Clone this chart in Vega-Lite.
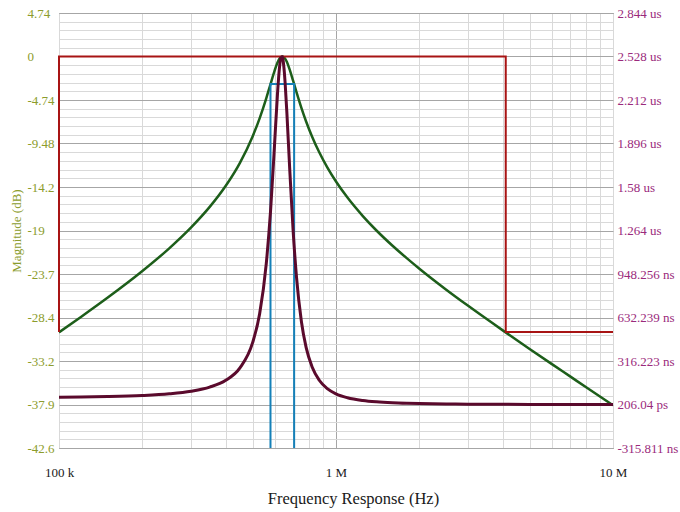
{
  "$schema": "https://vega.github.io/schema/vega-lite/v6.json",
  "width": 554,
  "height": 435,
  "autosize": "none",
  "padding": {"left": 59, "top": 13, "right": 67, "bottom": 64},
  "background": "#ffffff",
  "config": {
    "view": {"stroke": "#6e6e6e", "strokeWidth": 1},
    "font": "Liberation Serif",
    "axis": {"labelFont": "Liberation Serif", "titleFont": "Liberation Serif"}
  },
  "datasets": {
    "resp": [
      {"f": 100000, "db": -30.03, "gd": 0.05263},
      {"f": 120000, "db": -28.35, "gd": 0.05435},
      {"f": 150000, "db": -26.24, "gd": 0.05768},
      {"f": 200000, "db": -23.35, "gd": 0.06568},
      {"f": 250000, "db": -20.88, "gd": 0.07793},
      {"f": 300000, "db": -18.6, "gd": 0.09671},
      {"f": 350000, "db": -16.37, "gd": 0.12645},
      {"f": 400000, "db": -14.07, "gd": 0.17613},
      {"f": 450000, "db": -11.57, "gd": 0.26619},
      {"f": 500000, "db": -8.7, "gd": 0.44921},
      {"f": 530000, "db": -6.73, "gd": 0.65857},
      {"f": 560000, "db": -4.55, "gd": 1.0216},
      {"f": 580000, "db": -3.02, "gd": 1.39818},
      {"f": 600000, "db": -1.56, "gd": 1.8877},
      {"f": 615000, "db": -0.66, "gd": 2.26057},
      {"f": 625000, "db": -0.25, "gd": 2.44578},
      {"f": 632000, "db": -0.07, "gd": 2.51755},
      {"f": 640000, "db": 0, "gd": 2.52645},
      {"f": 648000, "db": -0.07, "gd": 2.4563},
      {"f": 655000, "db": -0.23, "gd": 2.3396},
      {"f": 665000, "db": -0.61, "gd": 2.11289},
      {"f": 680000, "db": -1.4, "gd": 1.72642},
      {"f": 700000, "db": -2.63, "gd": 1.26652},
      {"f": 720000, "db": -3.87, "gd": 0.92728},
      {"f": 750000, "db": -5.59, "gd": 0.6033},
      {"f": 780000, "db": -7.07, "gd": 0.41503},
      {"f": 820000, "db": -8.73, "gd": 0.27207},
      {"f": 870000, "db": -10.43, "gd": 0.17634},
      {"f": 930000, "db": -12.07, "gd": 0.11561},
      {"f": 1000000, "db": -13.61, "gd": 0.07755},
      {"f": 1100000, "db": -15.36, "gd": 0.04921},
      {"f": 1250000, "db": -17.37, "gd": 0.0292},
      {"f": 1400000, "db": -18.94, "gd": 0.01951},
      {"f": 1600000, "db": -20.6, "gd": 0.01276},
      {"f": 1800000, "db": -21.95, "gd": 0.009076},
      {"f": 2000000, "db": -23.1, "gd": 0.006825},
      {"f": 2500000, "db": -25.38, "gd": 0.003903},
      {"f": 3000000, "db": -27.14, "gd": 0.002552},
      {"f": 4000000, "db": -29.81, "gd": 0.001352},
      {"f": 5000000, "db": -31.83, "gd": 0.000842},
      {"f": 6000000, "db": -33.46, "gd": 0.000576},
      {"f": 7000000, "db": -34.82, "gd": 0.000419},
      {"f": 8000000, "db": -36.0, "gd": 0.000319},
      {"f": 10000000, "db": -37.96, "gd": 0.000203}
    ],
    "mask": [
      {"f": 100000, "db": -30, "o": 0},
      {"f": 100000, "db": 0, "o": 1},
      {"f": 4100000, "db": 0, "o": 2},
      {"f": 4100000, "db": -30, "o": 3},
      {"f": 10000000, "db": -30, "o": 4}
    ],
    "bw": [
      {"f": 580100, "db": -42.615, "o": 0},
      {"f": 580100, "db": -3, "o": 1},
      {"f": 706100, "db": -3, "o": 2},
      {"f": 706100, "db": -42.615, "o": 3}
    ]
  },
  "encoding": {
    "x": {
      "field": "f",
      "type": "quantitative",
      "scale": {"type": "log", "domain": [100000, 10000000], "nice": false},
      "axis": {
        "values": [100000, 200000, 300000, 400000, 500000, 600000, 700000, 800000, 900000, 1000000, 2000000, 3000000, 4000000, 5000000, 6000000, 7000000, 8000000, 9000000, 10000000],
        "labelExpr": "datum.value == 100000 ? '100 k' : datum.value == 1000000 ? '1 M' : datum.value == 10000000 ? '10 M' : ''",
        "title": "Frequency Response (Hz)",
        "titleFontSize": 16.5,
        "titleFontWeight": "normal",
        "titleColor": "#1a1a1a",
        "titlePadding": 11,
        "titleX": 294,
        "labelColor": "#1a1a1a",
        "labelFontSize": 13,
        "labelPadding": 18,
        "labelFlush": false,
        "labelOverlap": false,
        "ticks": false,
        "tickSize": 0,
        "domain": false,
        "grid": true,
        "gridWidth": 1,
        "gridColor": {"condition": {"test": "datum.value == 1000000", "value": "#a6a6a6"}, "value": "#d9d9d9"}
      }
    }
  },
  "layer": [
    {
      "encoding": {
        "y": {
          "field": "db",
          "type": "quantitative",
          "scale": {"domain": [-42.615, 4.735], "nice": false, "zero": false},
          "axis": {
            "orient": "left",
            "values": [4.735, 3.788, 2.841, 1.894, 0.947, 0, -0.947, -1.894, -2.841, -3.788, -4.735, -5.682, -6.629, -7.576, -8.523, -9.47, -10.417, -11.364, -12.311, -13.258, -14.205, -15.152, -16.099, -17.046, -17.993, -18.94, -19.887, -20.834, -21.781, -22.728, -23.675, -24.622, -25.569, -26.516, -27.463, -28.41, -29.357, -30.304, -31.251, -32.198, -33.145, -34.092, -35.039, -35.986, -36.933, -37.88, -38.827, -39.774, -40.721, -41.668, -42.615],
            "labelExpr": "round((4.735 - datum.value) / 0.947) % 5 == 0 ? ['4.74','0','-4.74','-9.48','-14.2','-19','-23.7','-28.4','-33.2','-37.9','-42.6'][round((4.735 - datum.value) / 0.947) / 5] : ''",
            "title": "Magnitude (dB)",
            "titleColor": "#8c9c2c",
            "titleFontSize": 13,
            "titleFontWeight": "normal",
            "titlePadding": 4,
            "labelColor": "#8c9c2c",
            "labelFontSize": 13,
            "labelAlign": "left",
            "labelBaseline": "middle",
            "labelPadding": 32,
            "labelFlush": false,
            "labelOverlap": false,
            "ticks": false,
            "tickSize": 0,
            "domain": false,
            "grid": true,
            "gridWidth": 1,
            "gridColor": {"condition": {"test": "round((4.735 - datum.value) / 0.947) % 5 == 0", "value": "#a6a6a6"}, "value": "#d9d9d9"}
          }
        }
      },
      "layer": [
        {
          "data": {"name": "resp"},
          "mark": {"type": "line", "color": "#1d5e1a", "strokeWidth": 2.5, "interpolate": "monotone", "clip": true}
        },
        {
          "data": {"name": "bw"},
          "mark": {"type": "line", "color": "#1580b8", "strokeWidth": 2, "clip": true},
          "encoding": {"order": {"field": "o", "type": "quantitative"}}
        },
        {
          "data": {"name": "mask"},
          "mark": {"type": "line", "color": "#a81414", "strokeWidth": 2, "clip": false},
          "encoding": {"order": {"field": "o", "type": "quantitative"}}
        }
      ]
    },
    {
      "data": {"name": "resp"},
      "mark": {"type": "line", "color": "#5a0a2c", "strokeWidth": 3, "interpolate": "monotone", "clip": true},
      "encoding": {
        "y": {
          "field": "gd",
          "type": "quantitative",
          "scale": {"domain": [-0.315811, 2.844357], "nice": false, "zero": false},
          "axis": {
            "orient": "right",
            "values": [2.844357, 2.52834, 2.212323, 1.896306, 1.580289, 1.264272, 0.948255, 0.632238, 0.316221, 0.000206, -0.315811],
            "labelExpr": "['2.844 us','2.528 us','2.212 us','1.896 us','1.58 us','1.264 us','948.256 ns','632.239 ns','316.223 ns','206.04 ps','-315.811 ns'][round((2.844357 - datum.value) / 0.316017)]",
            "title": null,
            "labelColor": "#9a2a7c",
            "labelFontSize": 13,
            "labelAlign": "left",
            "labelBaseline": "middle",
            "labelPadding": 4,
            "labelFlush": false,
            "labelOverlap": false,
            "ticks": false,
            "tickSize": 0,
            "domain": false,
            "grid": false
          }
        }
      }
    }
  ],
  "resolve": {"scale": {"y": "independent"}}
}
